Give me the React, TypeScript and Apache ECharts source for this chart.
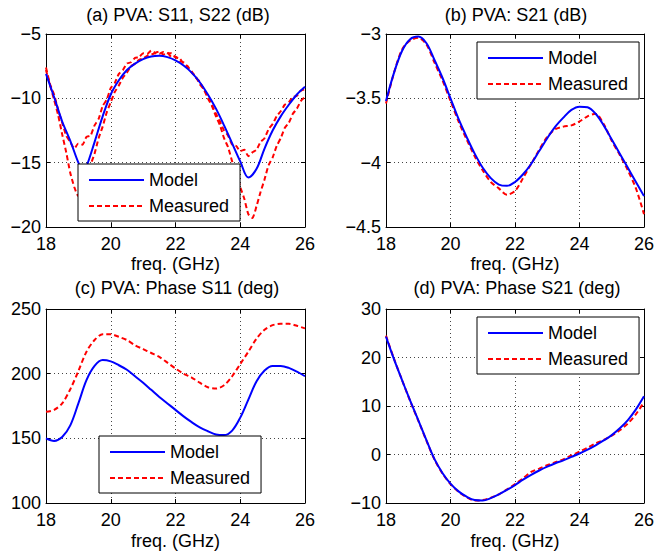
import React, { useEffect, useRef } from "react";
import * as echarts from "echarts";

// ---------- data ----------
const freq = [18, 18.25, 18.5, 18.75, 19, 19.25, 19.5, 19.75, 20, 20.25, 20.5, 20.75, 21, 21.25, 21.5, 21.75, 22, 22.25, 22.5, 22.75, 23, 23.25, 23.5, 23.75, 24, 24.25, 24.5, 24.75, 25, 25.25, 25.5, 25.75, 26];

// (a) S11, S22 (dB)
const freqAModel = [18, 18.25, 18.5, 18.75, 19, 19.15, 19.25, 19.5, 19.75, 20, 20.25, 20.5, 20.75, 21, 21.25, 21.5, 21.75, 22, 22.25, 22.5, 22.75, 23, 23.25, 23.5, 23.75, 24, 24.25, 24.5, 24.75, 25, 25.25, 25.5, 25.75, 26];
const aModel = [-8.1, -9.9, -11.8, -13.3, -15.0, -15.7, -15.3, -13.4, -11.4, -9.7, -8.6, -7.8, -7.3, -6.95, -6.75, -6.7, -6.8, -7.05, -7.45, -8.0, -8.75, -9.7, -10.8, -12.1, -13.5, -14.9, -16.15, -15.5, -13.9, -12.5, -11.4, -10.5, -9.7, -9.1];
const freqAMeas = [
  18, 18.125, 18.25, 18.375, 18.5, 18.625, 18.75, 18.875, 19, 19.125, 19.25, 19.375, 19.5, 19.625, 19.75, 19.875,
  20, 20.125, 20.25, 20.375, 20.5, 20.625, 20.75, 20.875, 21, 21.125, 21.25, 21.375, 21.5, 21.625, 21.75, 21.875,
  22, 22.125, 22.25, 22.375, 22.5, 22.625, 22.75, 22.875, 23, 23.125, 23.25, 23.375, 23.5, 23.625, 23.75, 23.875,
  24, 24.125, 24.25, 24.375, 24.5, 24.625, 24.75, 24.875, 25, 25.125, 25.25, 25.375, 25.5, 25.625, 25.75, 25.875, 26,
];
const aMeasS11 = [
  -7.6, -8.9, -9.7, -10.9, -11.9, -12.9, -13.4, -13.9, -13.5, -13.6, -13.0, -12.9, -12.1, -11.6, -10.6, -10.1,
  -9.2, -8.8, -8.1, -7.8, -7.3, -7.2, -6.85, -6.8, -6.5, -6.55, -6.3, -6.45, -6.35, -6.6, -6.45, -6.8,
  -6.75, -7.1, -7.2, -7.6, -7.9, -8.4, -8.7, -9.3, -9.8, -10.5, -11.2, -11.8, -12.5, -12.9, -13.6, -13.7,
  -14.1, -14.0, -14.5, -14.2, -14.0, -13.4, -13.1, -12.4, -12.0, -11.4, -11.0, -10.5, -10.3, -9.9, -9.8, -9.4, -9.3,
];
const aMeasS22 = [
  -7.8, -9.0, -10.1, -11.3, -12.8, -14.2, -15.8, -16.9, -17.6, -17.2, -16.5, -15.2, -14.3, -13.1, -12.2, -11.1,
  -10.3, -9.5, -9.0, -8.4, -8.0, -7.5, -7.3, -7.0, -6.9, -6.7, -6.6, -6.5, -6.55, -6.4, -6.5, -6.5,
  -6.8, -6.9, -7.3, -7.5, -8.0, -8.3, -8.9, -9.3, -10.0, -10.6, -11.4, -12.1, -13.1, -13.8, -14.9, -15.7,
  -16.9, -17.8, -19.0, -19.3, -18.4, -17.3, -16.3, -15.2, -14.6, -13.7, -13.1, -12.3, -11.9, -11.2, -10.8, -10.2, -9.9,
];

// (b) S21 (dB)
const bModel = [-3.52, -3.3, -3.13, -3.04, -3.02, -3.07, -3.2, -3.34, -3.5, -3.66, -3.8, -3.93, -4.04, -4.12, -4.17, -4.18, -4.15, -4.09, -4.01, -3.91, -3.81, -3.72, -3.65, -3.59, -3.565, -3.57, -3.62, -3.71, -3.82, -3.93, -4.04, -4.15, -4.26];
const bMeas = [-3.54, -3.3, -3.12, -3.05, -3.03, -3.08, -3.22, -3.36, -3.52, -3.68, -3.82, -3.95, -4.06, -4.15, -4.2, -4.25, -4.22, -4.12, -4.01, -3.9, -3.8, -3.74, -3.72, -3.71, -3.68, -3.64, -3.62, -3.7, -3.83, -3.94, -4.06, -4.2, -4.4];

// (c) Phase S11 (deg)
const cModel = [150, 148, 151, 160, 177, 195, 206, 210.5, 209.5, 206.5, 203, 198, 193, 187.5, 182, 177, 172, 167, 162.5, 158.5, 155.5, 153, 152.5, 156, 166, 180, 194, 202.5, 206, 206, 204.5, 201.5, 198];
const cMeas = [170.5, 172, 177, 188, 202, 217, 226, 230.5, 230.5, 228.5, 226, 222, 219, 216, 213, 208.5, 204, 200, 197, 193, 189.5, 188.5, 191, 198, 207.5, 217, 227, 234, 237.5, 238.5, 238.5, 237, 235];

// (d) Phase S21 (deg)
const dModel = [24.3, 19.6, 15.3, 11.1, 7.1, 3.0, -0.9, -3.8, -6.0, -7.6, -8.7, -9.4, -9.5, -9.0, -8.2, -7.3, -6.3, -5.2, -4.2, -3.3, -2.5, -1.8, -1.2, -0.5, 0.2, 1.0, 1.9, 2.9, 4.0, 5.4, 7.1, 9.3, 12.0];
const dMeas = [24.5, 19.7, 15.3, 11.0, 7.0, 2.9, -1.0, -3.9, -6.1, -7.7, -8.8, -9.5, -9.4, -8.9, -8.2, -7.2, -6.1, -4.9, -3.6, -2.9, -2.2, -1.6, -1.0, -0.2, 0.6, 1.4, 2.3, 3.0, 3.9, 5.0, 6.4, 8.3, 10.8];

const titles = ["(a) PVA: S11, S22 (dB)", "(b) PVA: S21 (dB)", "(c) PVA: Phase S11 (deg)", "(d) PVA: Phase S21 (deg)"];
const xName = "freq. (GHz)";
const xTicks = { min: 18, max: 26, interval: 2 };
const yRanges = [
  { min: -20, max: -5, interval: 5 },
  { min: -4.5, max: -3, interval: 0.5 },
  { min: 100, max: 250, interval: 50 },
  { min: -10, max: 30, interval: 10 },
];
const legendNames = ["Model", "Measured"];

// ---------- layout ----------
const FONT = "Liberation Sans, Arial, Helvetica, sans-serif";
const FS = 18;
const grids = [
  { left: 46, top: 34, width: 259, height: 193 },
  { left: 386, top: 34, width: 259, height: 193 },
  { left: 46, top: 309, width: 259, height: 194 },
  { left: 386, top: 309, width: 259, height: 194 },
];
const legendPos = [
  { left: 78, top: 164 },
  { left: 477, top: 42 },
  { left: 99, top: 436 },
  { left: 477, top: 317 },
];

const zip = (xs: number[], ys: number[]) => xs.map((x, i) => [x, ys[i]]);
const fmt = (v: number) => String(v).replace("-", "\u2212");

export default function App() {
  const ref = useRef<HTMLDivElement>(null);
  useEffect(() => {
    if (!ref.current) return;
    const chart = echarts.init(ref.current, null, { renderer: "svg" });

    const xAxis: any[] = [];
    const yAxis: any[] = [];
    grids.forEach((_, i) => {
      xAxis.push({
        type: "value", gridIndex: i, ...xTicks, position: "bottom",
        name: xName, nameLocation: "middle", nameGap: i < 2 ? 28 : 29,
        nameTextStyle: { fontSize: FS, color: "#000", fontFamily: FONT },
        axisLine: { show: true, onZero: false, lineStyle: { color: "#000", width: 1 } },
        axisTick: { show: true, inside: true, length: 4, lineStyle: { color: "#000" } },
        axisLabel: { fontSize: FS, color: "#000", fontFamily: FONT, margin: 8, formatter: fmt },
        splitLine: { show: true, lineStyle: { color: "#444", type: [1, 3], width: 1 } },
      });
      xAxis.push({
        type: "value", gridIndex: i, ...xTicks, position: "top",
        axisLine: { show: true, onZero: false, lineStyle: { color: "#000", width: 1 } },
        axisTick: { show: true, inside: true, length: 4, lineStyle: { color: "#000" } },
        axisLabel: { show: false }, splitLine: { show: false },
      });
      yAxis.push({
        type: "value", gridIndex: i, ...yRanges[i], position: "left",
        axisLine: { show: true, onZero: false, lineStyle: { color: "#000", width: 1 } },
        axisTick: { show: true, inside: true, length: 4, lineStyle: { color: "#000" } },
        axisLabel: { fontSize: FS, color: "#000", fontFamily: FONT, margin: 5, formatter: fmt },
        splitLine: { show: true, lineStyle: { color: "#444", type: [1, 3], width: 1 } },
      });
      yAxis.push({
        type: "value", gridIndex: i, ...yRanges[i], position: "right",
        axisLine: { show: true, onZero: false, lineStyle: { color: "#000", width: 1 } },
        axisTick: { show: true, inside: true, length: 4, lineStyle: { color: "#000" } },
        axisLabel: { show: false }, splitLine: { show: false },
      });
    });

    const model = (i: number, data: number[][]) => ({
      type: "line", name: "Model", xAxisIndex: 2 * i, yAxisIndex: 2 * i, data,
      symbol: "none", smooth: 0.35, lineStyle: { color: "#0000ff", width: 2 }, itemStyle: { color: "#0000ff" },
      z: 3,
    });
    const meas = (i: number, data: number[][], smooth = 0.3) => ({
      type: "line", name: "Measured", xAxisIndex: 2 * i, yAxisIndex: 2 * i, data,
      symbol: "none", smooth, lineStyle: { color: "#ff0000", width: 2, type: [5, 3] }, itemStyle: { color: "#ff0000" },
      z: 2,
    });

    const series = [
      model(0, zip(freqAModel, aModel)),
      meas(0, zip(freqAMeas, aMeasS11), 0.2),
      meas(0, zip(freqAMeas, aMeasS22), 0.2),
      model(1, zip(freq, bModel)),
      meas(1, zip(freq, bMeas)),
      model(2, zip(freq, cModel)),
      meas(2, zip(freq, cMeas)),
      model(3, zip(freq, dModel)),
      meas(3, zip(freq, dMeas)),
    ];

    const titleCenters = [[178, 6], [516, 6], [177, 279], [517, 279]];

    chart.setOption({
      animation: false,
      backgroundColor: "#fff",
      title: titles.map((t, i) => ({
        text: t, left: titleCenters[i][0], top: titleCenters[i][1], textAlign: "center", padding: 0,
        textStyle: { fontSize: FS, fontWeight: "normal", color: "#000", fontFamily: FONT },
      })),
      grid: grids.map((g) => ({ ...g, containLabel: false, show: true, backgroundColor: "#fff", borderWidth: 0 })),
      xAxis, yAxis,
      legend: legendPos.map((p) => ({
        data: legendNames, orient: "vertical", left: p.left, top: p.top,
        backgroundColor: "#fff", borderColor: "#000", borderWidth: 1, borderRadius: 0,
        padding: [6, 11, 5, 10], itemGap: 6, itemWidth: 55, itemHeight: 14,
        selectedMode: false,
        itemStyle: { opacity: 0 },
        textStyle: { fontSize: FS, color: "#000", fontFamily: FONT, lineHeight: 20 },
      })),
      series,
    });
    return () => chart.dispose();
  }, []);
  return <div ref={ref} style={{ position: "absolute", left: 0, top: 0, width: 657, height: 556 }} />;
}
